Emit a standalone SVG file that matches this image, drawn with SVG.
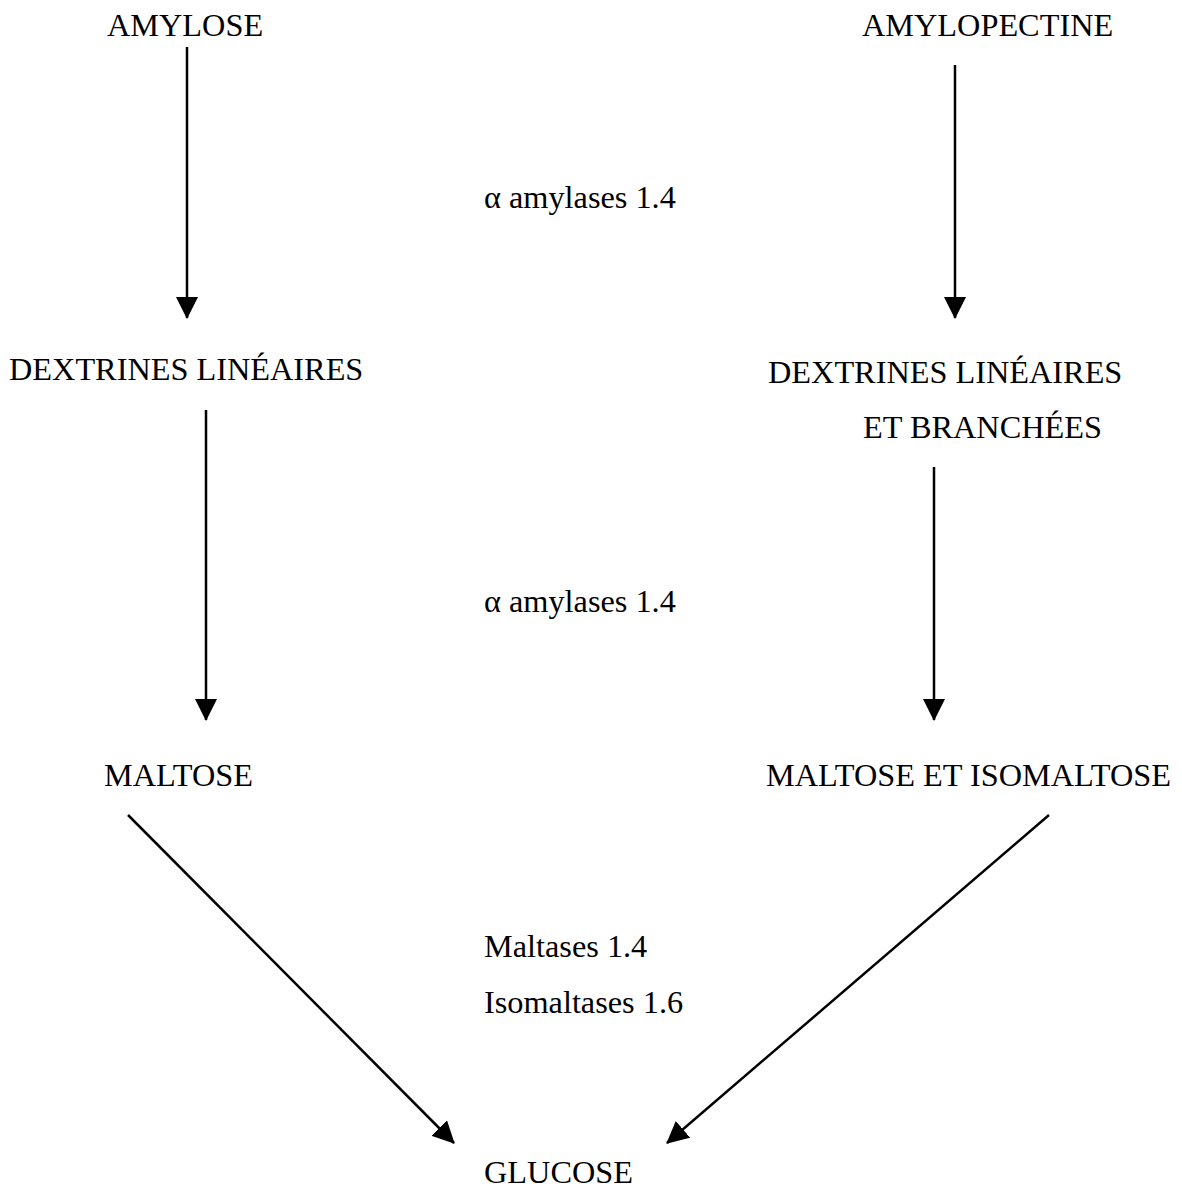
<svg xmlns="http://www.w3.org/2000/svg" width="1182" height="1191" viewBox="0 0 1182 1191">
<style>
text{font-family:"Liberation Serif","Times New Roman",serif;font-size:32.3px;fill:#000}
.c line{stroke:#000;stroke-width:2.5;marker-end:url(#ah)}
</style>
<defs>
<marker id="ah" markerUnits="userSpaceOnUse" viewBox="0 0 22 22" markerWidth="22" markerHeight="22" refX="21" refY="11" orient="auto">
<path d="M0,0 L22,11 L0,22 z" fill="#000"/>
</marker>
</defs>
<rect width="1182" height="1191" fill="#fff"/>
<g class="c" id="connectors">
<line x1="187" y1="47" x2="187" y2="318"/>
<line x1="955" y1="65" x2="955" y2="318"/>
<line x1="206" y1="410" x2="206" y2="720"/>
<line x1="934" y1="467" x2="934" y2="720"/>
<line x1="128" y1="815" x2="454" y2="1143"/>
<line x1="1049" y1="815" x2="667" y2="1143"/>
</g>
<g id="amylose"><text x="107" y="36">AMYLOSE</text></g>
<g id="amylopectine"><text x="862" y="36">AMYLOPECTINE</text></g>
<g id="label1"><text x="484" y="208">α amylases 1.4</text></g>
<g id="dextrines-lin"><text x="9" y="380">DEXTRINES LINÉAIRES</text></g>
<g id="dextrines-br"><text x="768" y="383">DEXTRINES LINÉAIRES</text><text x="863" y="438">ET BRANCHÉES</text></g>
<g id="label2"><text x="484" y="612">α amylases 1.4</text></g>
<g id="maltose"><text x="104" y="786">MALTOSE</text></g>
<g id="maltose-iso"><text x="766" y="786">MALTOSE ET ISOMALTOSE</text></g>
<g id="label3"><text x="484" y="957">Maltases 1.4</text><text x="484" y="1013">Isomaltases 1.6</text></g>
<g id="glucose"><text x="484" y="1183">GLUCOSE</text></g>
</svg>
